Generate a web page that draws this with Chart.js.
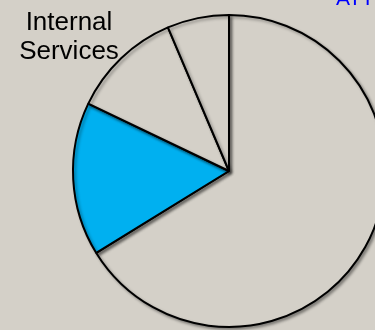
<!DOCTYPE html>
<html>
<head>
<meta charset="utf-8">
<script src="https://cdn.jsdelivr.net/npm/chart.js@4/dist/chart.umd.min.js"></script>
<style>
  html, body { margin: 0; padding: 0; background: #d4d0c8; overflow: hidden; }
  #wrap { width: 375px; height: 330px; overflow: hidden; position: relative; }
  canvas { display: block; }
</style>
</head>
<body>
<div id="wrap"><canvas id="c" width="400" height="330"></canvas></div>
<script>
// Budget share by function (percent), clockwise from 12 o'clock
const categories = ["Programs", "Internal Services", "Support", "Other"];
const shares = [66.2, 15.9, 11.5, 6.4];
const sliceColors = ["#d4d0c8", "#00b0f0", "#d4d0c8", "#d4d0c8"];

const BG = "#d4d0c8";

const backdrop = {
  id: "backdrop",
  beforeDraw(chart) {
    const ctx = chart.ctx;
    ctx.save();
    ctx.fillStyle = BG;
    ctx.fillRect(0, 0, chart.width, chart.height);
    ctx.restore();
  }
};

// soft drop shadow under the slice outlines
const shade = {
  id: "shade",
  beforeDatasetsDraw(chart) {
    const ctx = chart.ctx;
    ctx.save();
    ctx.shadowColor = "rgba(0,0,0,0.35)";
    ctx.shadowBlur = 3;
    ctx.shadowOffsetX = 2;
    ctx.shadowOffsetY = 2;
  },
  afterDatasetsDraw(chart) {
    chart.ctx.restore();
  }
};

const captions = {
  id: "captions",
  afterDraw(chart) {
    const ctx = chart.ctx;
    ctx.save();
    ctx.textAlign = "center";
    ctx.textBaseline = "alphabetic";
    ctx.fillStyle = "#000000";
    ctx.font = "26px 'Liberation Sans', Arial, sans-serif";
    ctx.fillText("Internal", 69, 30);
    ctx.fillText("Services", 69, 59);
    ctx.textAlign = "left";
    ctx.fillStyle = "#0000ff";
    ctx.font = "21px 'Liberation Sans', Arial, sans-serif";
    ctx.fillText("ATT", 336, 5);
    ctx.restore();
  }
};

new Chart(document.getElementById("c"), {
  type: "pie",
  data: {
    labels: categories,
    datasets: [{
      data: shares,
      backgroundColor: sliceColors,
      borderColor: "#000000",
      borderWidth: 2,
      borderAlign: "center"
    }]
  },
  options: {
    responsive: false,
    animation: false,
    layout: { padding: { left: 72, right: 14, top: 13, bottom: 1 } },
    plugins: {
      legend: { display: false },
      tooltip: { enabled: false },
      title: { display: false }
    }
  },
  plugins: [backdrop, shade, captions]
});
</script>
</body>
</html>
